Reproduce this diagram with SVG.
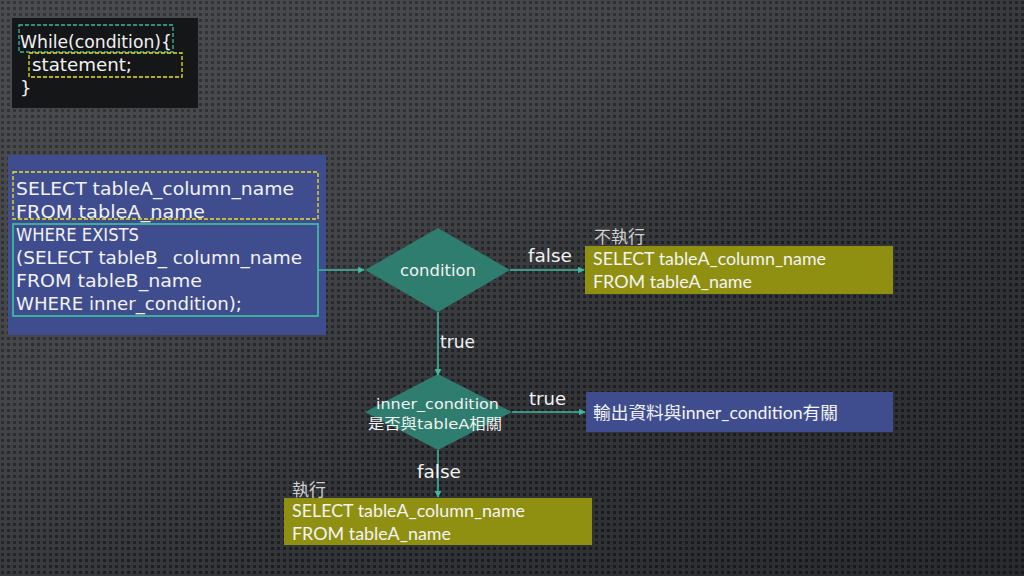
<svg xmlns="http://www.w3.org/2000/svg" width="1024" height="576" viewBox="0 0 1024 576">
<defs>
<pattern id="dots" width="6" height="6" patternUnits="userSpaceOnUse">
<rect width="6" height="6" fill="#36383c"/>
<rect x="1" y="1" width="3" height="3" fill="#1e1f22"/>
</pattern>
<linearGradient id="sheen" x1="0" y1="0" x2="1" y2="1">
<stop offset="0" stop-color="#ffffff" stop-opacity="0.10"/>
<stop offset="0.35" stop-color="#ffffff" stop-opacity="0.07"/>
<stop offset="0.6" stop-color="#000000" stop-opacity="0.05"/>
<stop offset="1" stop-color="#000000" stop-opacity="0.25"/>
</linearGradient>
<marker id="arr" viewBox="0 0 10 10" refX="9" refY="5" markerWidth="7" markerHeight="7" orient="auto" markerUnits="userSpaceOnUse">
<path d="M0,0 L10,5 L0,10 z" fill="#3fb8a0"/>
</marker>
<style>
.g{font-family:"DejaVu Sans","Noto Sans CJK TC",sans-serif;fill:#f2f2f2}
.c{font-family:"Lato","Noto Sans CJK TC",sans-serif;fill:#f4f4f4}
.cap{font-family:"Noto Sans CJK TC",sans-serif;fill:#d0d0d0;font-size:17px}
.lbl{font-family:"DejaVu Sans",sans-serif;fill:#f2f2f2;font-size:17px}
.edge{stroke:#3fb8a0;stroke-width:1.5;fill:none}
.dia{fill:#2f7d6e}
.olive{fill:#8f8f12}
.blue{fill:#3f4d8e}
</style>
</defs>
<rect width="1024" height="576" fill="url(#dots)"/>
<rect width="1024" height="576" fill="url(#sheen)"/>

<g id="code">
<rect x="12" y="18" width="186" height="90" fill="#151617"/>
<rect x="19" y="25" width="154" height="27" fill="none" stroke="#3fb8a0" stroke-width="1.3" stroke-dasharray="4,2"/>
<rect x="29" y="53" width="153" height="24" fill="none" stroke="#f0e020" stroke-width="1.3" stroke-dasharray="4,2"/>
<text class="g" x="20" y="48" font-size="18" textLength="152" lengthAdjust="spacingAndGlyphs">While(condition){</text>
<text class="g" x="32" y="71" font-size="18" textLength="100" lengthAdjust="spacingAndGlyphs">statement;</text>
<text class="g" x="20" y="94" font-size="18">}</text>
</g>

<g id="query">
<rect class="blue" x="8" y="155" width="318" height="180"/>
<rect x="13" y="172" width="305" height="47" fill="none" stroke="#f0e020" stroke-width="1.3" stroke-dasharray="4,2"/>
<rect x="13" y="224" width="305" height="92" fill="none" stroke="#3fb8a0" stroke-width="1.8"/>
<text class="g" font-size="18">
<tspan x="16" y="195" textLength="278" lengthAdjust="spacingAndGlyphs">SELECT tableA_column_name</tspan>
<tspan x="16" y="218" textLength="189" lengthAdjust="spacingAndGlyphs">FROM tableA_name</tspan>
<tspan x="16" y="241" textLength="123" lengthAdjust="spacingAndGlyphs">WHERE EXISTS</tspan>
<tspan x="16" y="264" textLength="286" lengthAdjust="spacingAndGlyphs">(SELECT tableB_ column_name</tspan>
<tspan x="16" y="287" textLength="186" lengthAdjust="spacingAndGlyphs">FROM tableB_name</tspan>
<tspan x="16" y="310" textLength="226" lengthAdjust="spacingAndGlyphs">WHERE inner_condition);</tspan>
</text>
</g>

<g id="cond">
<polygon class="dia" points="438,228 510,270 438,312 365,270"/>
<text class="g" x="400" y="276" font-size="15" textLength="76" lengthAdjust="spacingAndGlyphs">condition</text>
</g>

<g id="notexec">
<text class="cap" x="594" y="243">不執行</text>
<rect class="olive" x="585" y="246" width="308" height="48"/>
<text class="c" x="593" y="265" font-size="17" textLength="233" lengthAdjust="spacingAndGlyphs">SELECT tableA_column_name</text>
<text class="c" x="593" y="288" font-size="17" textLength="159" lengthAdjust="spacingAndGlyphs">FROM tableA_name</text>
</g>

<g id="inner">
<polygon class="dia" points="438,374 512,412 438,450 365,412"/>
<text class="g" x="376" y="409" font-size="14.5" textLength="123" lengthAdjust="spacingAndGlyphs">inner_condition</text>
<text class="g" x="368" y="429" font-size="14.5" textLength="134" lengthAdjust="spacingAndGlyphs">是否與tableA相關</text>
</g>

<g id="output">
<rect class="blue" x="586" y="392" width="307" height="40"/>
<text class="c" x="593" y="419" font-size="17" textLength="245" lengthAdjust="spacingAndGlyphs">輸出資料與inner_condition有關</text>
</g>

<g id="exec">
<text class="cap" x="292" y="496">執行</text>
<rect class="olive" x="284" y="498" width="308" height="47"/>
<text class="c" x="292" y="517" font-size="17" textLength="233" lengthAdjust="spacingAndGlyphs">SELECT tableA_column_name</text>
<text class="c" x="292" y="540" font-size="17" textLength="159" lengthAdjust="spacingAndGlyphs">FROM tableA_name</text>
</g>

<g id="connectors">
<line class="edge" x1="318" y1="270" x2="364" y2="270" marker-end="url(#arr)"/>
<line class="edge" x1="510" y1="270" x2="584" y2="270" marker-end="url(#arr)"/>
<text class="lbl" x="528" y="262" textLength="44" lengthAdjust="spacingAndGlyphs">false</text>
<line class="edge" x1="438" y1="312" x2="438" y2="375" marker-end="url(#arr)"/>
<text class="lbl" x="440" y="348" textLength="35" lengthAdjust="spacingAndGlyphs">true</text>
<line class="edge" x1="512" y1="412" x2="585" y2="412" marker-end="url(#arr)"/>
<text class="lbl" x="529" y="405" textLength="37" lengthAdjust="spacingAndGlyphs">true</text>
<line class="edge" x1="438" y1="450" x2="438" y2="497" marker-end="url(#arr)"/>
<text class="lbl" x="417" y="478" textLength="44" lengthAdjust="spacingAndGlyphs">false</text>
</g>
</svg>
